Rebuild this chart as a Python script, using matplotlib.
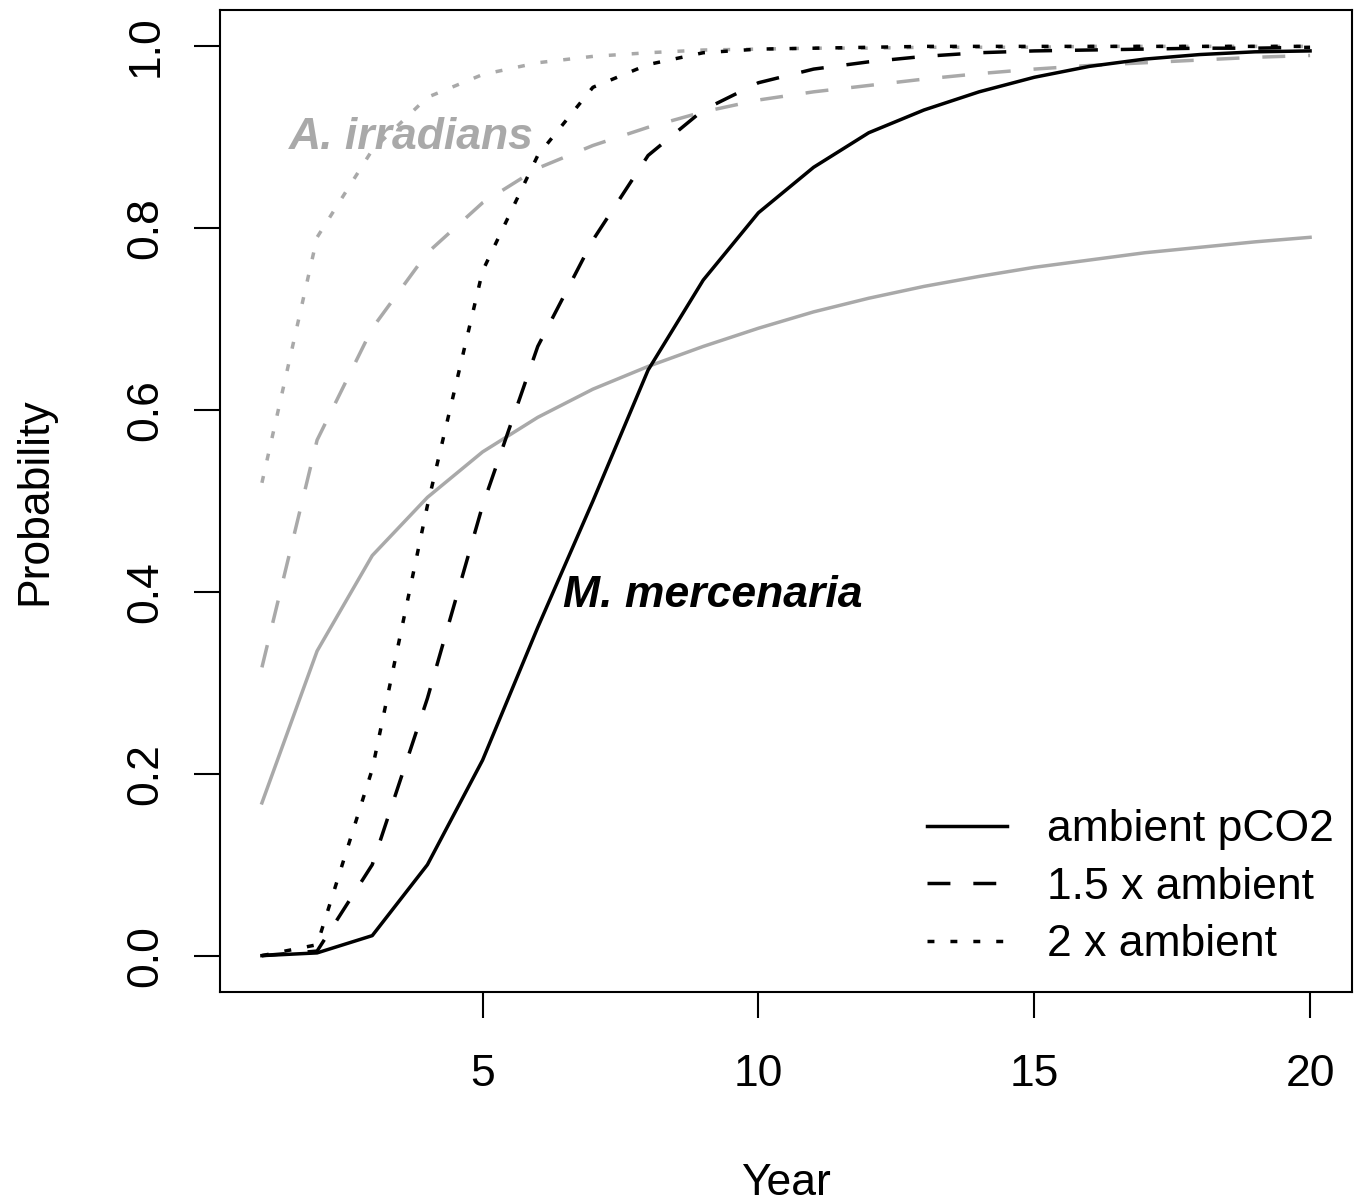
import numpy as np
import matplotlib
matplotlib.use("Agg")
import matplotlib.pyplot as plt

plt.rcParams['font.family'] = ['Liberation Sans', 'DejaVu Sans']

# years simulated
years = np.arange(1, 21)

# M. mercenaria (black)
merc_ambient = [0.000, 0.003, 0.022, 0.100, 0.215, 0.361, 0.500, 0.644, 0.743, 0.817,
                0.867, 0.905, 0.930, 0.950, 0.966, 0.978, 0.986, 0.991, 0.994, 0.995]
merc_15x = [0.000, 0.005, 0.100, 0.283, 0.495, 0.670, 0.787, 0.880, 0.930, 0.960,
            0.975, 0.983, 0.989, 0.993, 0.995, 0.996, 0.997, 0.998, 0.998, 0.999]
merc_2x = [0.000, 0.012, 0.205, 0.495, 0.753, 0.880, 0.955, 0.980, 0.993, 0.997,
           0.998, 0.999, 1.000, 1.000, 1.000, 1.000, 1.000, 1.000, 1.000, 1.000]

# A. irradians (grey)
irr_ambient = [0.168, 0.335, 0.440, 0.504, 0.554, 0.592, 0.623, 0.648, 0.670, 0.690,
               0.708, 0.723, 0.736, 0.747, 0.757, 0.765, 0.773, 0.779, 0.785, 0.790]
irr_15x = [0.317, 0.567, 0.690, 0.773, 0.828, 0.866, 0.891, 0.911, 0.928, 0.941,
           0.950, 0.957, 0.964, 0.970, 0.975, 0.979, 0.982, 0.985, 0.988, 0.990]
irr_2x = [0.520, 0.790, 0.886, 0.944, 0.969, 0.982, 0.989, 0.993, 0.996, 0.997,
          0.998, 0.998, 0.999, 0.999, 0.999, 1.000, 1.000, 1.000, 1.000, 1.000]

legend_labels = ['ambient pCO2', '1.5 x ambient', '2 x ambient']

grey = '#a9a9a9'
lw = 2.5
dash = (0, (6.6, 6.6))
dot = (0, (2.0, 4.6))
fs = 32

fig = plt.figure(figsize=(13.61, 12.03), dpi=100)
ax = fig.add_axes([220/1361, 211/1203, 1132/1361, 982/1203])

# grey first, black on top
ax.plot(years, irr_ambient, color=grey, lw=lw, linestyle='-')
ax.plot(years, irr_15x, color=grey, lw=lw, linestyle=dash)
ax.plot(years, irr_2x, color=grey, lw=lw, linestyle=dot)

l1, = ax.plot(years, merc_ambient, color='black', lw=lw, linestyle='-')
l2, = ax.plot(years, merc_15x, color='black', lw=lw, linestyle=dash)
l3, = ax.plot(years, merc_2x, color='black', lw=lw, linestyle=dot)

ax.set_xlim(0.24, 20.76)
ax.set_ylim(-0.04, 1.04)
ax.set_xticks([5, 10, 15, 20])
ax.set_yticks([0.0, 0.2, 0.4, 0.6, 0.8, 1.0])
ax.set_yticklabels(['0.0', '0.2', '0.4', '0.6', '0.8', '1.0'], rotation=90, va='center')

for s in ax.spines.values():
    s.set_linewidth(1.5)
ax.tick_params(axis='both', length=18.7, width=1.5, labelsize=fs)
ax.tick_params(axis='x', pad=26)
ax.tick_params(axis='y', pad=20)

ax.set_xlabel('Year', fontsize=fs, labelpad=49)
ax.set_ylabel('Probability', fontsize=fs, labelpad=50)

ax.text(3.7, 0.90, 'A. irradians', color=grey, fontsize=fs, fontweight='bold',
        fontstyle='italic', ha='center', va='center')
ax.text(9.18, 0.396, 'M. mercenaria', color='black', fontsize=fs, fontweight='bold',
        fontstyle='italic', ha='center', va='center')

ax.legend([l1, l2, l3], legend_labels, loc='lower right', bbox_to_anchor=(1.0, 0.009),
          frameon=False, fontsize=fs, handlelength=1.8, handletextpad=0.9,
          labelspacing=0.37, borderaxespad=0.0)

fig.savefig('out.png', dpi=100)
